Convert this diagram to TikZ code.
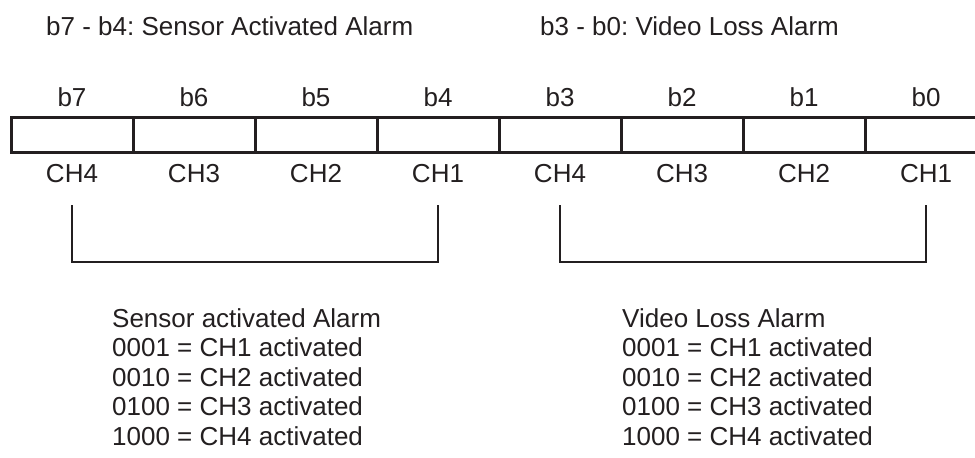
\documentclass[tikz,border=0pt]{standalone}
\usepackage{fontspec}
\setmainfont{Liberation Sans}
\usepackage{xcolor}
\usepackage{tikz}
\usetikzlibrary{positioning,calc}
\definecolor{ink}{HTML}{231F20}
\frenchspacing
\newcommand{\regfont}{\fontsize{26}{29.5}\selectfont}
\tikzset{
  bitcell/.style={
    draw=ink,
    line width=3pt,
    minimum width=122pt,
    minimum height=35pt,
    inner sep=0pt
  },
  bitlbl/.style={
    text=ink,
    font=\regfont,
    inner sep=0pt,
    anchor=base
  },
  heading/.style={bitlbl,anchor=base west},
  legend/.style={
    text=ink,
    font=\regfont,
    align=left,
    inner sep=0pt,
    anchor=base west
  },
  bracket/.style={draw=ink,line width=2pt}
}

\begin{document}
\begin{tikzpicture}[x=1pt,y=1pt]
  \clip (0,0) rectangle (975,-458);
  \fill[white] (0,0) rectangle (975,-458);
  \node[heading] (sensorttl) at (46,-35.5) {b7 - b4: Sensor Activated Alarm};
  \node[heading] (videottl) at (540,-35.5) {b3 - b0: Video Loss Alarm};
  % register bits b7 ... b0
  \foreach \b [count=\i from 0] in {7,6,...,0} {
    \pgfmathtruncatemacro{\ch}{mod(\b,4)+1}
    \node[bitcell] (c\b) at (72+122*\i,-134.5) {};
    \node[bitlbl] (b\b) at (72+122*\i,-106.5) {b\b};
    \node[bitlbl] (ch\b) at (72+122*\i,-182) {CH\ch};
  }
  \coordinate (brtop) at (0,-205);
  \coordinate (brbot) at (0,-262);
  \draw[bracket] (c7 |- brtop) |- (brbot -| c4) -- (c4 |- brtop);
  \draw[bracket] (c3 |- brtop) |- (brbot -| c0) -- (c0 |- brtop);
  % legends (anchored at the baseline of the last line)
  \node[legend] (sensorkey) at (112,-445) {Sensor activated Alarm\\0001 = CH1 activated\\0010 = CH2 activated\\0100 = CH3 activated\\1000 = CH4 activated};
  \node[legend] (videokey) at (622,-445) {Video Loss Alarm\\0001 = CH1 activated\\0010 = CH2 activated\\0100 = CH3 activated\\1000 = CH4 activated};
\end{tikzpicture}
\end{document}
